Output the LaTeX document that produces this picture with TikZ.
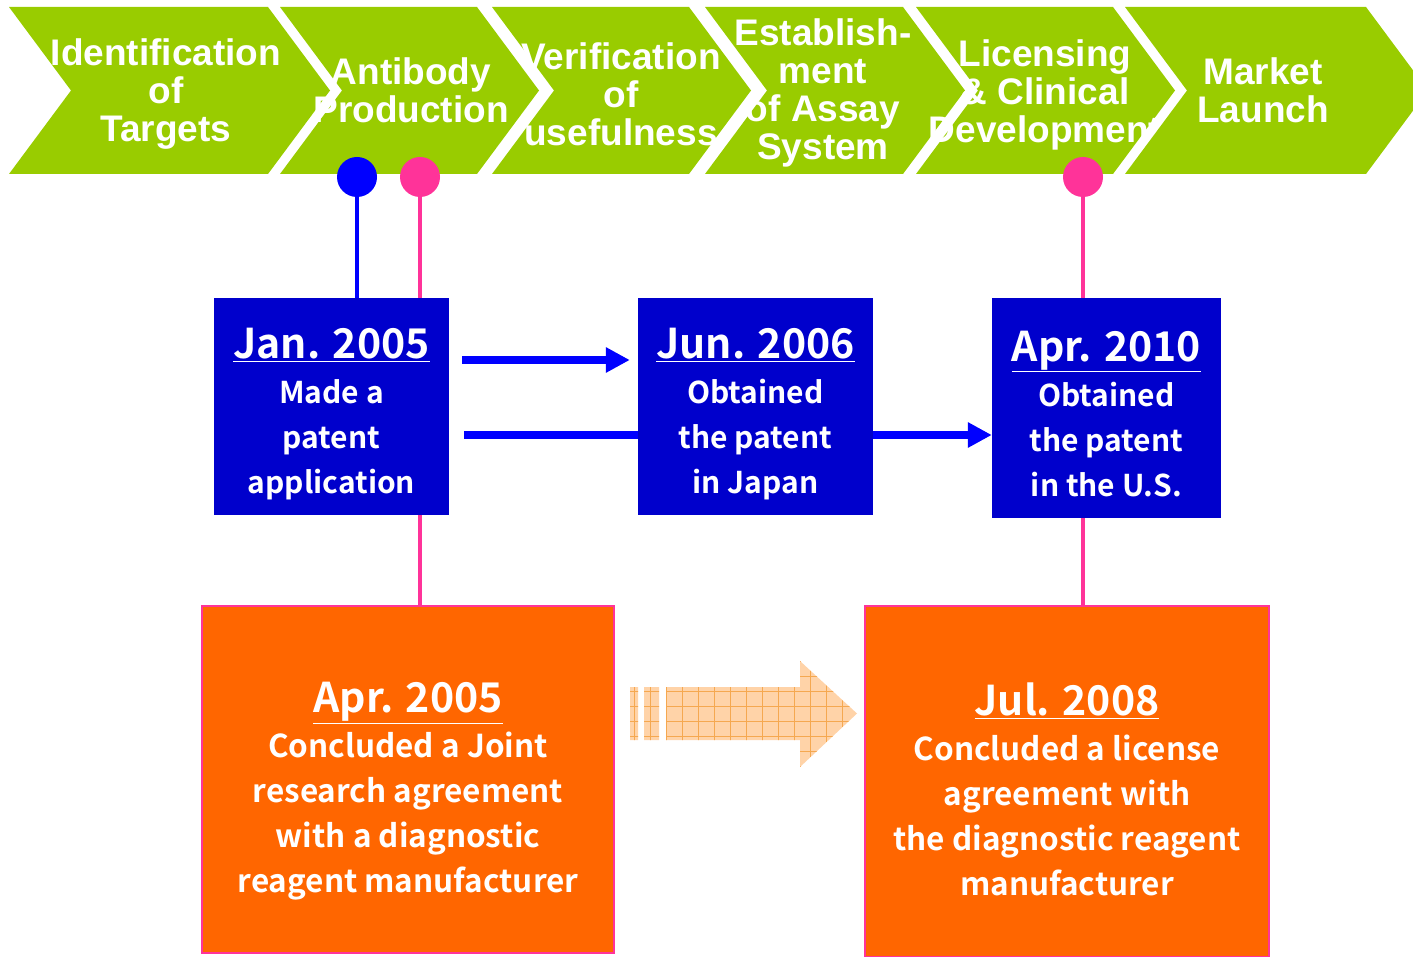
\documentclass[tikz,border=0pt]{standalone}
\usepackage{fontspec}
\setmainfont{Liberation Sans}
\newfontfamily\boxfont{Noto Sans CJK JP}[BoldFont={Noto Sans CJK JP Bold}]
\usetikzlibrary{arrows.meta,backgrounds}

\definecolor{phasegreen}{HTML}{99CC00}
\definecolor{boxblue}{HTML}{0000CC}
\definecolor{lineblue}{HTML}{0000FF}
\definecolor{pinkline}{HTML}{FF3399}
\definecolor{boxorange}{HTML}{FF6600}
\definecolor{hatchfill}{HTML}{FFD3A8}
\definecolor{hatchline}{HTML}{F5A850}

\newcommand{\datestamp}[2][46pt]{{\fontsize{41}{44}\selectfont\rule{0pt}{#1}\underline{#2}}\\}
\newcommand{\hatcharrowpath}{(630,687) rectangle (638,740) (644,687) rectangle (659,740)
  (666,687) -- (800,687) -- (800,661) -- (857,713.5) -- (800,767) -- (800,740) -- (666,740) -- cycle}

\begin{document}
\begin{tikzpicture}[x=1pt,y=-1pt,
    phase/.style={text=white, font=\bfseries\fontsize{37}{38}\selectfont, align=center, inner sep=0pt},
    bluebox/.style={fill=boxblue, text=white, font=\boxfont\bfseries\fontsize{30}{45}\selectfont, align=center, inner sep=0pt},
    orangebox/.style={fill=boxorange, draw=pinkline, line width=1.5pt, text=white, font=\boxfont\bfseries\fontsize{31.5}{45}\selectfont, align=center, inner sep=0pt},
    dot/.style={circle, minimum size=40pt, inner sep=0pt},
    vline/.style={line width=4pt},
    bluearrow/.style={draw=lineblue, line width=7.5pt, -{Triangle[length=24pt,width=24pt]}}]
    \useasboundingbox (0,0) rectangle (1413,957);

    % Process chevrons
    \foreach \l/\r/\cx/\cy/\txt [count=\i] in {9/268/166/94.5/{Identification\\of\\Targets},
        280/477/411/90.5/{Antibody\\Production}, 492/689/621/94.5/{Verification\\of\\usefulness},
        705/903/823/92.5/{Establish-\\ment\\of Assay\\System}, 916/1113/1045/94.5/{Licensing\\\& Clinical\\Development},
        1125/1366/1263/90.5/{Market\\Launch}}{
        \fill[phasegreen] (\l,7) -- (\r,7) -- ++(62,83.5) -- (\r,174) -- (\l,174) -- ++(62,-83.5) -- cycle;
        \node[phase] (phase\i) at (\cx,\cy) {\txt};
    }

    % Milestone dots
    \node[dot, fill=lineblue] (dotA) at (357,177) {};
    \node[dot, fill=pinkline] (dotB) at (420,177) {};
    \node[dot, fill=pinkline] (dotC) at (1083,177) {};

    % Patent boxes
    \node[bluebox, minimum width=235pt, minimum height=217pt] (jan05) at (331.5,406.5)
        {\datestamp{Jan. 2005}Made a\\patent\\application};
    \node[bluebox, minimum width=235pt, minimum height=217pt] (jun06) at (755.5,406.5)
        {\datestamp{Jun. 2006}Obtained\\the patent\\in Japan};
    \node[bluebox, minimum width=229pt, minimum height=220pt] (apr10) at (1106.5,408)
        {\datestamp[42pt]{Apr. 2010}Obtained\\the patent\\in the U.S.};

    % Agreement boxes
    \node[orangebox, minimum width=412pt, minimum height=347pt] (apr05) at (408,779.5)
        {\datestamp[54pt]{Apr. 2005}Concluded a Joint\\research agreement\\with a diagnostic\\reagent manufacturer};
    \node[orangebox, minimum width=404pt, minimum height=351pt] (jul08) at (1067,781.5)
        {\datestamp[49pt]{Jul. 2008}Concluded a license\\agreement with\\the diagnostic reagent\\manufacturer};

    % Connections
    \draw[vline, lineblue] (dotA.south) -- (dotA |- jan05.north);
    \draw[vline, pinkline] (dotB.south) -- (dotB |- jan05.north);
    \draw[vline, pinkline] (dotB |- jan05.south) -- (dotB |- apr05.north);
    \draw[vline, pinkline] (dotC.south) -- (dotC |- apr10.north);
    \draw[vline, pinkline] (dotC |- apr10.south) -- (dotC |- jul08.north);

    \coordinate (arrA) at (462,360);
    \coordinate (arrB) at (464,435);
    \draw[bluearrow, shorten >=8pt] (arrA) -- (arrA -| jun06.west);
    \begin{scope}[on background layer]
        \draw[bluearrow] (arrB) -- (arrB -| apr10.west);
    \end{scope}

    % Hatched arrow
    \fill[hatchfill] \hatcharrowpath;
    \begin{scope}
        \clip \hatcharrowpath;
        \foreach \gx in {634,650,...,860} \draw[hatchline, line width=0.8pt] (\gx,650) -- (\gx,780);
        \foreach \gy in {661,676,...,770} \draw[hatchline, line width=0.8pt] (620,\gy) -- (870,\gy);
    \end{scope}
\end{tikzpicture}
\end{document}
